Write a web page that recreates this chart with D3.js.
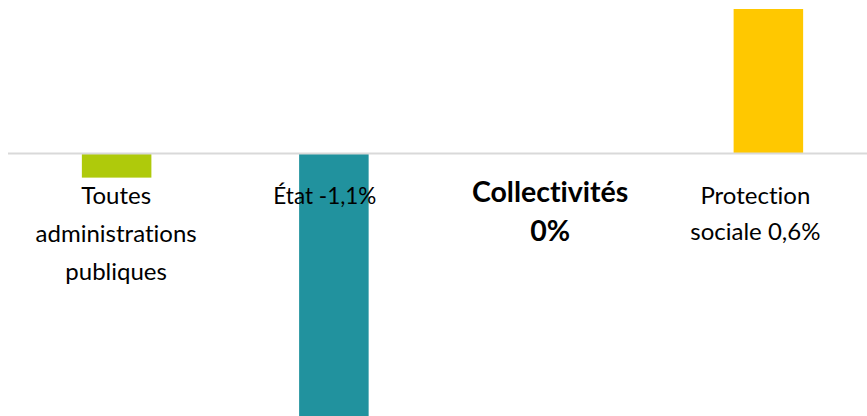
<!DOCTYPE html>
<html>
<head>
<meta charset="utf-8">
<script src="https://cdn.jsdelivr.net/npm/d3@7"></script>
<style>
  html, body { margin: 0; padding: 0; background: #fff; }
  svg { display: block; }
  .lbl { font-family: Lato, "Open Sans", sans-serif; fill: #000; font-variant-ligatures: none; font-feature-settings: "liga" 0; }
</style>
</head>
<body>
<svg id="chart" width="867" height="416"></svg>
<script>
// Variation by sub-sector, in percentage points
const categories = ["Toutes administrations publiques", "État", "Collectivités", "Protection sociale"];
const values = [-0.1, -1.1, 0, 0.6];
const colors = ["#AFCA0B", "#21929E", "#FFFFFF", "#FFC800"];
// Category label lines drawn under the axis
const labelLines = [
  ["Toutes", "administrations", "publiques"],
  ["État -1,1%"],
  ["Collectivités", "0%"],
  ["Protection", "sociale 0,6%"]
];
const labelBold = [false, false, true, false];

const width = 867, height = 416;
const svg = d3.select("#chart");

const x = d3.scaleBand().domain(categories).range([8, 877]).paddingInner(0.68).paddingOuter(0.34);
const y = d3.scaleLinear().domain([-1.1, 0.6]).range([418.5, 9]);

// Bars
svg.append("g").selectAll("rect")
  .data(categories)
  .join("rect")
  .attr("x", d => x(d))
  .attr("width", x.bandwidth())
  .attr("y", (d, i) => Math.min(y(values[i]), y(0)))
  .attr("height", (d, i) => Math.abs(y(values[i]) - y(0)))
  .attr("fill", (d, i) => colors[i]);

// Zero line
svg.append("line")
  .attr("x1", 8).attr("x2", width)
  .attr("y1", y(0)).attr("y2", y(0))
  .attr("stroke", "#D9D9D9").attr("stroke-width", 2);

// Category labels
const labelOffsets = [-0.5, -9, -1, -13];
const lineGap = [38, 38, 39, 36];
const labelSize = [24, 22.5, 28.5, 24];
const g = svg.append("g");
categories.forEach((c, i) => {
  const cx = x(c) + x.bandwidth() / 2 + labelOffsets[i];
  const t = g.append("text")
    .attr("class", "lbl")
    .attr("text-anchor", "middle")
    .attr("font-size", labelSize[i])
    .attr("font-weight", labelBold[i] ? "bold" : "normal");
  labelLines[i].forEach((line, j) => {
    t.append("tspan")
      .attr("x", cx)
      .attr("y", (labelBold[i] ? 202 : 204) + j * lineGap[i])
      .text(line);
  });
});
</script>
</body>
</html>
